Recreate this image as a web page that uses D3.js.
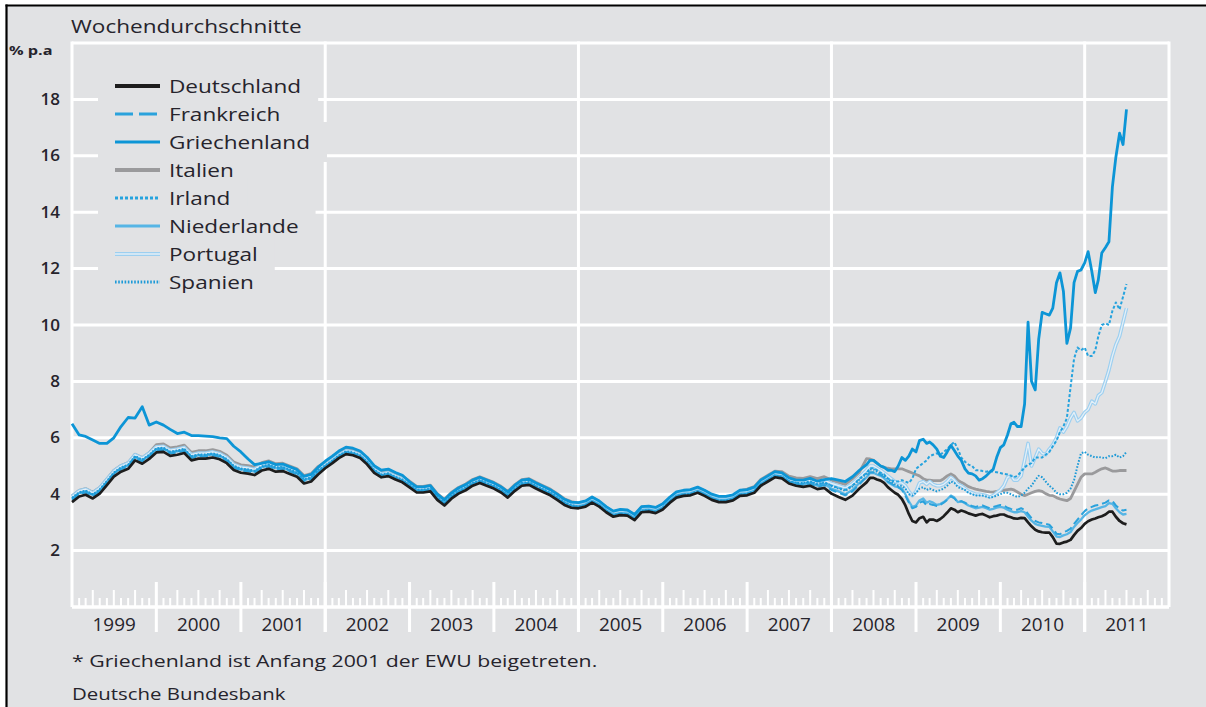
<!DOCTYPE html>
<html><head><meta charset="utf-8">
<script src="https://cdn.jsdelivr.net/npm/d3@7/dist/d3.min.js"></script>
<style>
html,body{margin:0;padding:0;background:#fff;}
svg{display:block;}
text{font-family:"Open Sans","Noto Sans",sans-serif;}
</style></head><body>
<svg id="chart" width="1206" height="707"></svg>
<script>
// ---------- DATA ----------
const dates = [
"1999-01-01","1999-02-01","1999-03-01","1999-04-01","1999-05-01","1999-06-01","1999-07-01","1999-08-01","1999-09-01","1999-10-01","1999-11-01","1999-12-01",
"2000-01-01","2000-02-01","2000-03-01","2000-04-01","2000-05-01","2000-06-01","2000-07-01","2000-08-01","2000-09-01","2000-10-01","2000-11-01","2000-12-01",
"2001-01-01","2001-02-01","2001-03-01","2001-04-01","2001-05-01","2001-06-01","2001-07-01","2001-08-01","2001-09-01","2001-10-01","2001-11-01","2001-12-01",
"2002-01-01","2002-02-01","2002-03-01","2002-04-01","2002-05-01","2002-06-01","2002-07-01","2002-08-01","2002-09-01","2002-10-01","2002-11-01","2002-12-01",
"2003-01-01","2003-02-01","2003-03-01","2003-04-01","2003-05-01","2003-06-01","2003-07-01","2003-08-01","2003-09-01","2003-10-01","2003-11-01","2003-12-01",
"2004-01-01","2004-02-01","2004-03-01","2004-04-01","2004-05-01","2004-06-01","2004-07-01","2004-08-01","2004-09-01","2004-10-01","2004-11-01","2004-12-01",
"2005-01-01","2005-02-01","2005-03-01","2005-04-01","2005-05-01","2005-06-01","2005-07-01","2005-08-01","2005-09-01","2005-10-01","2005-11-01","2005-12-01",
"2006-01-01","2006-02-01","2006-03-01","2006-04-01","2006-05-01","2006-06-01","2006-07-01","2006-08-01","2006-09-01","2006-10-01","2006-11-01","2006-12-01",
"2007-01-01","2007-02-01","2007-03-01","2007-04-01","2007-05-01","2007-06-01","2007-07-01","2007-08-01","2007-09-01","2007-10-01","2007-11-01","2007-12-01",
"2008-01-01","2008-02-01","2008-03-01","2008-04-01","2008-05-01",
"2008-06-01","2008-06-16","2008-07-01","2008-07-16","2008-08-01","2008-08-16","2008-09-01","2008-09-16","2008-10-01","2008-10-16",
"2008-11-01","2008-11-16","2008-12-01","2008-12-16","2009-01-01","2009-01-16","2009-02-01","2009-02-16","2009-03-01","2009-03-16",
"2009-04-01","2009-04-16","2009-05-01","2009-05-16","2009-06-01","2009-06-16","2009-07-01","2009-07-16","2009-08-01","2009-08-16",
"2009-09-01","2009-09-16","2009-10-01","2009-10-16","2009-11-01","2009-11-16","2009-12-01","2009-12-16","2010-01-01","2010-01-16",
"2010-02-01","2010-02-16","2010-03-01","2010-03-16","2010-04-01","2010-04-16","2010-05-01","2010-05-16","2010-06-01","2010-06-16",
"2010-07-01","2010-07-16","2010-08-01","2010-08-16","2010-09-01","2010-09-16","2010-10-01","2010-10-16","2010-11-01","2010-11-16",
"2010-12-01","2010-12-16","2011-01-01","2011-01-16","2011-02-01","2011-02-16","2011-03-01","2011-03-16","2011-04-01","2011-04-16",
"2011-05-01","2011-05-16","2011-06-01","2011-06-16","2011-07-01"
];

const deutschland = [
3.72,3.92,3.98,3.85,4.02,4.32,4.62,4.80,4.90,5.20,5.08,5.25,
5.48,5.50,5.36,5.40,5.46,5.20,5.26,5.26,5.30,5.24,5.10,4.86,
4.76,4.73,4.68,4.84,4.90,4.80,4.82,4.72,4.62,4.38,4.45,4.70,
4.92,5.10,5.28,5.42,5.38,5.28,5.06,4.76,4.60,4.64,4.52,4.42,
4.24,4.06,4.06,4.10,3.80,3.60,3.84,4.02,4.14,4.30,4.40,4.30,
4.20,4.06,3.88,4.12,4.30,4.33,4.20,4.08,3.96,3.80,3.62,3.52,
3.50,3.56,3.70,3.56,3.36,3.20,3.26,3.24,3.08,3.36,3.38,3.33,
3.46,3.70,3.88,3.94,3.96,4.05,3.94,3.80,3.72,3.72,3.78,3.94,
3.96,4.05,4.30,4.45,4.60,4.56,4.38,4.30,4.26,4.30,4.18,4.22,
4.02,3.90,3.80,3.95,4.20,
4.42,4.58,4.58,4.52,4.48,4.40,4.25,4.15,4.05,3.98,
3.83,3.60,3.30,3.05,3.00,3.15,3.20,3.00,3.10,3.10,
3.05,3.12,3.22,3.35,3.50,3.45,3.36,3.42,3.38,3.32,
3.28,3.24,3.28,3.30,3.24,3.18,3.22,3.24,3.28,3.28,
3.22,3.18,3.14,3.13,3.16,3.15,3.00,2.86,2.74,2.68,
2.65,2.64,2.64,2.48,2.25,2.24,2.29,2.32,2.38,2.55,
2.70,2.80,2.95,3.04,3.10,3.14,3.18,3.22,3.28,3.38,
3.38,3.20,3.05,2.97,2.93
];

const frankreich = [
3.80,4.00,4.06,3.93,4.10,4.40,4.70,4.88,4.98,5.28,5.16,5.33,
5.56,5.58,5.44,5.48,5.54,5.28,5.34,5.34,5.38,5.32,5.18,4.94,
4.84,4.81,4.76,4.92,4.98,4.88,4.90,4.80,4.70,4.46,4.53,4.78,
4.97,5.15,5.33,5.47,5.43,5.33,5.11,4.81,4.65,4.69,4.57,4.47,
4.29,4.11,4.11,4.15,3.85,3.65,3.89,4.07,4.19,4.35,4.45,4.35,
4.25,4.11,3.93,4.17,4.35,4.38,4.25,4.13,4.01,3.85,3.67,3.57,
3.55,3.61,3.75,3.61,3.41,3.25,3.31,3.29,3.13,3.41,3.43,3.38,
3.51,3.75,3.93,3.99,4.01,4.10,3.99,3.85,3.77,3.77,3.83,3.99,
4.01,4.10,4.35,4.50,4.65,4.61,4.43,4.35,4.31,4.37,4.26,4.32,
4.15,4.05,3.96,4.10,4.35,
4.62,4.78,4.78,4.72,4.68,4.60,4.45,4.38,4.30,4.25,
4.15,3.95,3.70,3.50,3.55,3.70,3.75,3.60,3.65,3.62,
3.58,3.62,3.70,3.80,3.92,3.85,3.72,3.75,3.70,3.62,
3.58,3.55,3.58,3.60,3.55,3.50,3.55,3.58,3.62,3.60,
3.52,3.48,3.45,3.45,3.50,3.45,3.30,3.15,3.05,3.00,
2.98,2.95,2.92,2.78,2.60,2.58,2.65,2.70,2.78,2.95,
3.10,3.25,3.40,3.50,3.55,3.60,3.62,3.66,3.70,3.78,
3.76,3.60,3.48,3.42,3.45
];

const griechenland = [
6.50,6.10,6.05,5.92,5.80,5.80,6.00,6.40,6.72,6.70,7.10,6.45,
6.56,6.45,6.30,6.15,6.20,6.08,6.08,6.06,6.04,6.00,5.97,5.70,
5.50,5.25,5.05,5.09,5.15,5.05,5.07,4.97,4.87,4.63,4.70,4.95,
5.17,5.35,5.53,5.67,5.63,5.53,5.31,5.01,4.85,4.89,4.77,4.67,
4.44,4.26,4.26,4.30,4.00,3.80,4.04,4.22,4.34,4.50,4.60,4.50,
4.40,4.26,4.08,4.32,4.50,4.53,4.40,4.28,4.16,4.00,3.82,3.72,
3.70,3.76,3.90,3.76,3.56,3.40,3.46,3.44,3.28,3.56,3.58,3.53,
3.66,3.90,4.08,4.14,4.16,4.25,4.14,4.00,3.92,3.92,3.98,4.14,
4.16,4.25,4.50,4.65,4.80,4.76,4.58,4.50,4.50,4.56,4.46,4.52,
4.55,4.50,4.45,4.62,4.85,
5.05,5.20,5.20,5.10,5.00,4.95,4.85,4.85,4.80,5.00,
5.30,5.20,5.35,5.60,5.50,5.90,5.95,5.80,5.85,5.75,
5.60,5.35,5.30,5.50,5.73,5.55,5.35,5.20,4.90,4.75,
4.72,4.65,4.50,4.55,4.65,4.78,4.88,5.30,5.65,5.75,
6.10,6.50,6.55,6.40,6.40,7.20,10.10,8.00,7.70,9.50,
10.45,10.40,10.35,10.60,11.50,11.85,11.20,9.35,9.90,11.50,
11.90,11.95,12.20,12.60,11.90,11.15,11.60,12.55,12.75,12.95,
14.90,15.95,16.80,16.40,17.65
];

const italien = [
3.94,4.14,4.20,4.07,4.24,4.54,4.84,5.02,5.12,5.42,5.30,5.47,
5.76,5.78,5.64,5.68,5.74,5.48,5.54,5.54,5.58,5.52,5.38,5.14,
5.04,5.01,4.96,5.12,5.18,5.08,5.10,5.00,4.90,4.66,4.73,4.98,
5.14,5.32,5.50,5.64,5.60,5.50,5.28,4.98,4.82,4.86,4.74,4.64,
4.46,4.28,4.28,4.32,4.02,3.82,4.06,4.24,4.36,4.52,4.62,4.52,
4.42,4.28,4.10,4.34,4.52,4.55,4.42,4.30,4.18,4.02,3.84,3.74,
3.68,3.74,3.88,3.74,3.54,3.38,3.44,3.42,3.26,3.54,3.56,3.51,
3.64,3.88,4.06,4.12,4.14,4.23,4.12,3.98,3.90,3.90,3.96,4.12,
4.18,4.27,4.52,4.67,4.82,4.80,4.64,4.58,4.56,4.62,4.55,4.62,
4.50,4.42,4.35,4.55,4.78,
5.26,5.25,5.20,5.10,5.00,4.95,4.92,4.90,4.90,4.90,
4.90,4.85,4.80,4.75,4.70,4.65,4.55,4.50,4.50,4.48,
4.48,4.48,4.55,4.65,4.72,4.65,4.50,4.42,4.35,4.27,
4.22,4.18,4.15,4.13,4.10,4.08,4.07,4.10,4.12,4.14,
4.16,4.18,4.15,4.08,4.00,3.95,4.00,4.05,4.10,4.13,
4.10,4.02,3.96,3.95,3.88,3.83,3.80,3.77,3.85,4.10,
4.35,4.60,4.72,4.72,4.72,4.78,4.84,4.90,4.93,4.88,
4.82,4.82,4.84,4.84,4.84
];

const irland = [
3.84,4.04,4.10,3.97,4.14,4.44,4.74,4.92,5.02,5.32,5.20,5.37,
5.60,5.62,5.48,5.52,5.58,5.32,5.38,5.38,5.42,5.36,5.22,4.98,
4.88,4.85,4.80,4.96,5.02,4.92,4.94,4.84,4.74,4.50,4.57,4.82,
4.99,5.17,5.35,5.49,5.45,5.35,5.13,4.83,4.67,4.71,4.59,4.49,
4.31,4.13,4.13,4.17,3.87,3.67,3.91,4.09,4.21,4.37,4.47,4.37,
4.27,4.13,3.95,4.19,4.37,4.40,4.27,4.15,4.03,3.87,3.69,3.59,
3.55,3.61,3.75,3.61,3.41,3.25,3.31,3.29,3.13,3.41,3.43,3.38,
3.51,3.75,3.93,3.99,4.01,4.10,3.99,3.85,3.77,3.77,3.83,3.99,
4.01,4.10,4.35,4.50,4.65,4.62,4.45,4.40,4.38,4.44,4.34,4.40,
4.30,4.22,4.15,4.30,4.55,
4.75,4.92,4.92,4.85,4.75,4.70,4.55,4.50,4.45,4.45,
4.50,4.45,4.40,4.55,4.90,5.00,5.10,5.20,5.35,5.40,
5.45,5.40,5.50,5.60,5.75,5.85,5.60,5.30,5.15,5.05,
5.00,4.85,4.85,4.82,4.80,4.82,4.80,4.78,4.75,4.72,
4.70,4.65,4.60,4.65,4.80,4.95,5.05,5.10,5.30,5.30,
5.30,5.40,5.50,5.70,5.90,6.20,6.40,6.70,7.80,8.80,
9.20,9.10,9.20,8.90,8.90,9.10,9.60,10.00,10.06,10.00,
10.50,10.80,10.55,11.00,11.45
];

const niederlande = [
3.84,4.04,4.10,3.97,4.14,4.44,4.74,4.92,5.02,5.32,5.20,5.37,
5.60,5.62,5.48,5.52,5.58,5.32,5.38,5.38,5.42,5.36,5.22,4.98,
4.88,4.85,4.80,4.96,5.02,4.92,4.94,4.84,4.74,4.50,4.57,4.82,
5.00,5.18,5.36,5.50,5.46,5.36,5.14,4.84,4.68,4.72,4.60,4.50,
4.32,4.14,4.14,4.18,3.88,3.68,3.92,4.10,4.22,4.38,4.48,4.38,
4.28,4.14,3.96,4.20,4.38,4.41,4.28,4.16,4.04,3.88,3.70,3.60,
3.58,3.64,3.78,3.64,3.44,3.28,3.34,3.32,3.16,3.44,3.46,3.41,
3.54,3.78,3.96,4.02,4.04,4.13,4.02,3.88,3.80,3.80,3.86,4.02,
4.04,4.13,4.38,4.53,4.68,4.64,4.46,4.38,4.34,4.40,4.30,4.36,
4.20,4.10,4.00,4.15,4.40,
4.60,4.75,4.76,4.70,4.65,4.57,4.42,4.35,4.28,4.25,
4.20,4.00,3.75,3.55,3.60,3.78,3.85,3.70,3.75,3.70,
3.62,3.65,3.72,3.82,3.95,3.88,3.72,3.75,3.68,3.60,
3.55,3.50,3.52,3.55,3.50,3.45,3.48,3.52,3.55,3.52,
3.45,3.40,3.36,3.36,3.40,3.36,3.20,3.06,2.95,2.90,
2.88,2.85,2.84,2.68,2.50,2.48,2.54,2.58,2.66,2.84,
2.98,3.10,3.25,3.35,3.42,3.46,3.50,3.54,3.58,3.68,
3.66,3.50,3.36,3.28,3.30
];

const portugal = [
3.92,4.12,4.18,4.05,4.22,4.52,4.82,5.00,5.10,5.40,5.28,5.45,
5.68,5.70,5.56,5.60,5.66,5.40,5.46,5.46,5.50,5.44,5.30,5.06,
4.96,4.93,4.88,5.04,5.10,5.00,5.02,4.92,4.82,4.58,4.65,4.90,
5.04,5.22,5.40,5.54,5.50,5.40,5.18,4.88,4.72,4.76,4.64,4.54,
4.36,4.18,4.18,4.22,3.92,3.72,3.96,4.14,4.26,4.42,4.52,4.42,
4.32,4.18,4.00,4.24,4.42,4.45,4.32,4.20,4.08,3.92,3.74,3.64,
3.60,3.66,3.80,3.66,3.46,3.30,3.36,3.34,3.18,3.46,3.48,3.43,
3.56,3.80,3.98,4.04,4.06,4.15,4.04,3.90,3.82,3.82,3.88,4.04,
4.06,4.15,4.40,4.55,4.70,4.68,4.52,4.46,4.44,4.50,4.42,4.50,
4.38,4.30,4.22,4.38,4.60,
4.85,5.00,5.00,4.92,4.85,4.75,4.65,4.55,4.45,4.40,
4.40,4.30,4.10,3.95,4.10,4.40,4.45,4.35,4.45,4.35,
4.30,4.30,4.35,4.45,4.60,4.50,4.35,4.30,4.20,4.10,
4.05,4.00,4.00,3.98,3.95,3.90,3.95,4.05,4.15,4.30,
4.60,4.65,4.50,4.50,4.65,5.20,5.80,5.00,5.30,5.60,
5.45,5.40,5.60,5.75,6.00,6.35,6.20,6.40,6.70,6.90,
6.60,6.70,6.90,7.00,7.30,7.20,7.50,7.60,8.00,8.40,
8.90,9.30,9.60,10.10,10.60
];

const spanien = [
3.87,4.07,4.13,4.00,4.17,4.47,4.77,4.95,5.05,5.35,5.23,5.40,
5.63,5.65,5.51,5.55,5.61,5.35,5.41,5.41,5.45,5.39,5.25,5.01,
4.91,4.88,4.83,4.99,5.05,4.95,4.97,4.87,4.77,4.53,4.60,4.85,
5.02,5.20,5.38,5.52,5.48,5.38,5.16,4.86,4.70,4.74,4.62,4.52,
4.34,4.16,4.16,4.20,3.90,3.70,3.94,4.12,4.24,4.40,4.50,4.40,
4.30,4.16,3.98,4.22,4.40,4.43,4.30,4.18,4.06,3.90,3.72,3.62,
3.55,3.61,3.75,3.61,3.41,3.25,3.31,3.29,3.13,3.41,3.43,3.38,
3.51,3.75,3.93,3.99,4.01,4.10,3.99,3.85,3.77,3.77,3.83,3.99,
4.01,4.10,4.35,4.50,4.65,4.62,4.46,4.40,4.40,4.45,4.36,4.42,
4.30,4.20,4.12,4.28,4.52,
4.72,4.88,4.88,4.80,4.72,4.65,4.55,4.45,4.35,4.30,
4.30,4.20,4.00,3.95,4.05,4.20,4.25,4.15,4.20,4.15,
4.10,4.15,4.20,4.30,4.45,4.40,4.25,4.20,4.15,4.05,
4.00,3.95,3.95,3.95,3.92,3.88,3.90,3.95,4.00,4.05,
4.05,4.00,3.95,3.90,3.95,4.05,4.20,4.30,4.50,4.65,
4.60,4.45,4.30,4.20,4.05,4.00,4.00,4.05,4.20,4.50,
5.00,5.45,5.50,5.40,5.35,5.30,5.32,5.30,5.28,5.35,
5.35,5.40,5.30,5.35,5.50
];

const seriesNames = ["Deutschland","Frankreich","Griechenland","Italien","Irland","Niederlande","Portugal","Spanien"];
const seriesValues = [deutschland, frankreich, griechenland, italien, irland, niederlande, portugal, spanien];
const yTicks = [2,4,6,8,10,12,14,16,18];
const yearLabels = ["1999","2000","2001","2002","2003","2004","2005","2006","2007","2008","2009","2010","2011"];
const gridYears = [1999, 2002, 2005, 2008, 2011, 2012];
const titleText = "Wochendurchschnitte";
const unitText = "% p.a";
const footnoteText = "* Griechenland ist Anfang 2001 der EWU beigetreten.";
const sourceText = "Deutsche Bundesbank";

// ---------- STYLES ----------
const BG = "#e1e2e4", TXT = "#26242c";
const styles = {
  "Deutschland": {color:"#1d1d1d", width:2.7, dash:null},
  "Frankreich":  {color:"#2aa2dc", width:2.0, dash:"8,4"},
  "Griechenland":{color:"#0c95d6", width:2.8, dash:null},
  "Italien":     {color:"#9a9a9c", width:2.8, dash:null},
  "Irland":      {color:"#26a3de", width:2.0, dash:"3,2"},
  "Niederlande": {color:"#56b5e5", width:2.3, dash:null},
  "Portugal":    {color:"#9ccff0", width:3.6, dash:null, inner:"#e4eff7"},
  "Spanien":     {color:"#1d9ad7", width:2.0, dash:"1.6,1.6"}
};
const drawOrder = ["Italien","Portugal","Niederlande","Frankreich","Irland","Spanien","Griechenland","Deutschland"];

// ---------- SETUP ----------
const svg = d3.select("#chart");
const parse = d3.timeParse("%Y-%m-%d");
const dateObjs = dates.map(parse);
const xL = 72, xR = 1169, yT = 43, yB = 607;
const x = d3.scaleTime().domain([new Date(1999,0,1), new Date(2012,0,1)]).range([xL, xR]);
const y = d3.scaleLinear().domain([0,20]).range([yB, yT]);

function txt(str, tx, ty, size, opts={}) {
  const sx = opts.sx || 1.15;
  return svg.append("text")
    .attr("transform", `translate(${tx},${ty}) scale(${sx},1)`)
    .attr("font-size", size)
    .attr("font-weight", opts.weight || 500)
    .attr("text-anchor", opts.anchor || "start")
    .attr("fill", opts.fill || TXT)
    .text(str);
}

// background + frame
svg.append("rect").attr("x",0).attr("y",0).attr("width",1206).attr("height",707).attr("fill","#fff");
svg.append("rect").attr("x",7).attr("y",6).attr("width",1199).attr("height",701).attr("fill",BG);
svg.append("line").attr("x1",6.5).attr("x2",6.5).attr("y1",4.5).attr("y2",707).attr("stroke","#000").attr("stroke-width",2.2);
svg.append("line").attr("x1",5.5).attr("x2",1206).attr("y1",5.5).attr("y2",5.5).attr("stroke","#000").attr("stroke-width",2.2);

const grid = svg.append("g").attr("stroke","#fff");
grid.selectAll("line.h").data(yTicks.concat([20])).join("line")
  .attr("x1", xL).attr("x2", xR).attr("y1", d=>y(d)).attr("y2", d=>y(d)).attr("stroke-width",3);
gridYears.forEach(yr => {
  const xx = x(new Date(yr,0,1));
  const bottom = (yr===1999 || yr===2012) ? yB : 632;
  grid.append("line").attr("x1",xx).attr("x2",xx).attr("y1",yT-1.5).attr("y2",bottom).attr("stroke-width",3);
});
d3.range(2000, 2012).forEach(yr => {
  const xx = x(new Date(yr,0,1));
  grid.append("line").attr("x1",xx).attr("x2",xx).attr("y1",582).attr("y2",632).attr("stroke-width",3);
});
grid.append("line").attr("x1",xL).attr("x2",xR).attr("y1",yB).attr("y2",yB).attr("stroke-width",3.5);
const monthTicks = d3.timeMonth.range(new Date(1999,0,1), new Date(2012,0,1)).filter(d => d.getMonth() !== 0);
grid.selectAll("line.mt").data(monthTicks).join("line")
  .attr("x1", d=>x(d)).attr("x2", d=>x(d))
  .attr("y1", d => (d.getMonth()%3===0) ? yB-17 : yB-9)
  .attr("y2", yB).attr("stroke-width",2);

// legend
const legX1 = 115, legX2 = 160, legTX = 169, legY0 = 86, legDY = 28, legSX = 1.22;
const legG = svg.append("g");
const legTexts = [];
seriesNames.forEach((n,i) => {
  legTexts.push(txt(n, legTX, legY0 + i*legDY + 6.5, 18.5, {sx:legSX}));
});
seriesNames.forEach((n,i) => {
  const w = legTexts[i].node().getComputedTextLength()*legSX;
  legG.append("rect").attr("x",98).attr("y",legY0 + i*legDY - 20)
    .attr("width", legTX + w + 17 - 98).attr("height",40).attr("fill",BG);
});

// lines
const lineGen = d3.line().x(d=>x(d.date)).y(d=>y(d.v));
const linesG = svg.append("g").attr("fill","none").attr("stroke-linejoin","round");
drawOrder.forEach(n => {
  const vals = seriesValues[seriesNames.indexOf(n)];
  const pts = vals.map((v,i)=>({date:dateObjs[i], v}));
  const s = styles[n];
  const p = linesG.append("path").attr("d", lineGen(pts)).attr("stroke", s.color).attr("stroke-width", s.width);
  if (s.dash) p.attr("stroke-dasharray", s.dash);
  if (s.inner) linesG.append("path").attr("d", lineGen(pts)).attr("stroke", s.inner).attr("stroke-width", 1.3);
});

// legend samples
seriesNames.forEach((n,i) => {
  const s = styles[n];
  const yy = legY0 + i*legDY;
  const l = svg.append("line").attr("x1",legX1).attr("x2",legX2).attr("y1",yy).attr("y2",yy)
    .attr("stroke", s.color).attr("stroke-width", (n==="Deutschland"||n==="Italien"||n==="Portugal") ? 4 : 3);
  if (s.dash) l.attr("stroke-dasharray", n==="Frankreich" ? "18,6" : s.dash);
  if (s.inner) svg.append("line").attr("x1",legX1).attr("x2",legX2).attr("y1",yy).attr("y2",yy)
    .attr("stroke", s.inner).attr("stroke-width", 1.4);
});
legTexts.forEach(t => t.raise());

// y labels
yTicks.forEach(v => txt(String(v), 60, y(v)+5.5, 15.5, {anchor:"end", weight:600, sx:1.1}));
// year labels
yearLabels.forEach(lab => {
  const yr = +lab;
  const xc = (x(new Date(yr,0,1)) + x(new Date(yr+1,0,1)))/2;
  txt(lab, xc, 631, 17.5, {anchor:"middle", sx:1.08});
});
// title etc.
txt(titleText, 71, 33, 18.5, {sx:1.22});
txt(unitText, 9, 55, 12.5, {weight:700, sx:1.3});
txt(footnoteText, 72, 667, 17, {sx:1.25});
txt(sourceText, 72, 700, 17, {sx:1.2});
</script>
</body></html>
